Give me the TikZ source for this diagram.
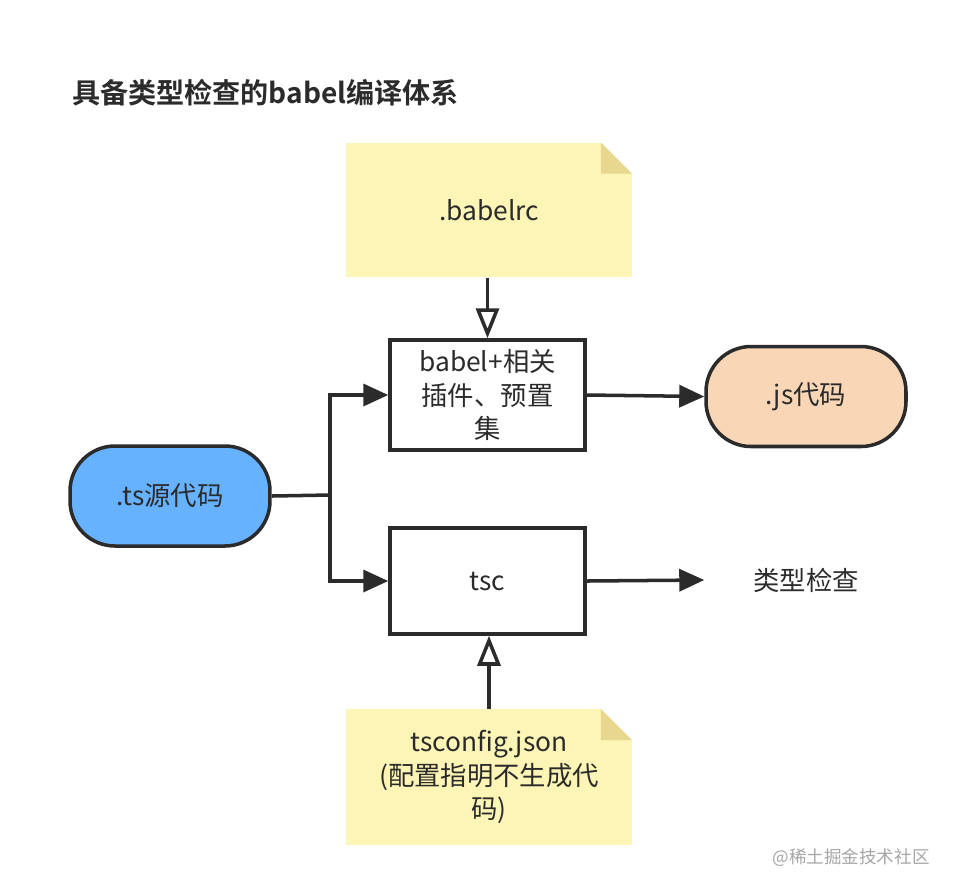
\documentclass[tikz,border=0pt]{standalone}
\usepackage{fontspec}
\setmainfont{Noto Sans CJK SC}[BoldFont={Noto Sans CJK SC Bold}]
\usetikzlibrary{arrows.meta,positioning}
\definecolor{linecol}{HTML}{2B2B2B}
\definecolor{notefill}{HTML}{FDF5B6}
\definecolor{foldfill}{HTML}{E8D78E}
\definecolor{tsfill}{HTML}{66B2FF}
\definecolor{jsfill}{HTML}{F8D6B6}
\tikzset{
  proc/.style={draw=linecol, line width=2pt, fill=white, minimum width=3.9cm, align=center, font=\fontsize{15}{19}\selectfont, text=linecol},
  pill/.style={draw=linecol, line width=2pt, rounded corners=0.9cm, minimum width=4cm, minimum height=2cm, font=\fontsize{15}{19}\selectfont, text=linecol},
  note/.style={fill=notefill, minimum width=5.72cm, align=center, font=\fontsize{15}{19}\selectfont, text=linecol,
    path picture={
      \fill[white] ([xshift=-0.62cm]path picture bounding box.north east) -- (path picture bounding box.north east) -- ([yshift=-0.62cm]path picture bounding box.north east) -- cycle;
      \fill[foldfill] ([xshift=-0.62cm]path picture bounding box.north east) -- ([xshift=-0.62cm,yshift=-0.62cm]path picture bounding box.north east) -- ([yshift=-0.62cm]path picture bounding box.north east) -- cycle;
    }},
  flow/.style={draw=linecol, line width=2pt, -{Triangle[length=0.5cm,width=0.44cm]}},
  hint/.style={draw=linecol, line width=2pt, -{Triangle[open,length=0.6cm,width=0.46cm]}}
}
\begin{document}
\begin{tikzpicture}[x=0.02cm,y=-0.02cm]
\useasboundingbox (0,0) rectangle (956,894);
% title
\node[anchor=west, font=\fontsize{16}{20}\selectfont\bfseries, text=linecol] (title) at (66,93) {具备类型检查的babel编译体系};
% notes
\node[note, minimum height=2.7cm] (babelrc) at (489,210) {.babelrc};
\node[note, minimum height=2.72cm] (tsconfig) at (489,777) {tsconfig.json\\(配置指明不生成代\\码)};
% process boxes
\node[proc, minimum height=2.2cm] (babel) at (487.5,395) {babel+相关\\插件、预置\\集};
\node[proc, minimum height=2.12cm] (tsc) at (487.5,581) {tsc};
% start / end
\node[pill, fill=tsfill] (ts) at (170,496) {.ts源代码};
\node[pill, fill=jsfill] (js) at (806,396.5) {.js代码};
\node[font=\fontsize{15}{19}\selectfont, text=linecol] (check) at (806,580) {类型检查};
\node[font=\fontsize{10}{12}\selectfont, text=black!35] (mark) at (851,858) {@稀土掘金技术社区};
% connectors
\coordinate (split) at (330,495);
\draw[draw=linecol, line width=2pt] (ts.east) -- (split);
\draw[flow] (split) |- (babel.west);
\draw[flow] (split) |- (tsc.west);
\draw[flow] (babel.east) -- (js.west);
\draw[flow] (tsc.east) -- (check.west -| js.west);
\draw[hint] (babelrc.south -| babel.north) -- (babel.north);
\draw[hint] (tsconfig.north) -- (tsc.south -| tsconfig.north);
\end{tikzpicture}
\end{document}
